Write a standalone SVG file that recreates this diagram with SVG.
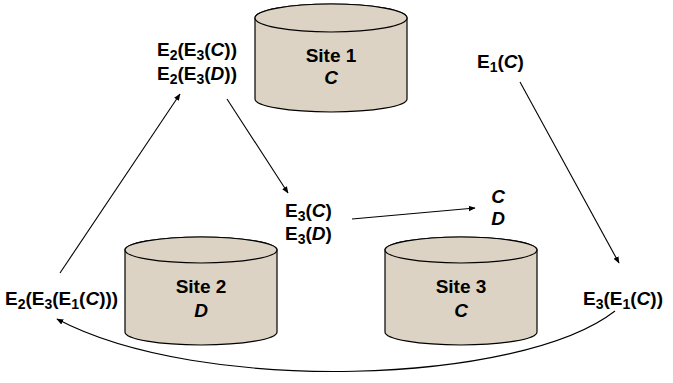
<svg xmlns="http://www.w3.org/2000/svg" width="673" height="383" viewBox="0 0 673 383">
<style>
text{font-family:"Liberation Sans",Arial,sans-serif;font-weight:bold;font-size:19px;fill:#000}
.c{text-anchor:middle}
.i{font-style:italic}
.s{font-size:14px}
.cyl{fill:#ddd3c4;stroke:#000;stroke-width:1.2}
.ln{fill:none;stroke:#000;stroke-width:1.1;marker-end:url(#ah)}
</style>
<defs>
<marker id="ah" viewBox="0 0 10 10" refX="9" refY="5" markerWidth="7" markerHeight="7" markerUnits="userSpaceOnUse" orient="auto">
<path d="M0,1 L10,5 L0,9 Z" fill="#000"/>
</marker>
</defs>
<rect width="673" height="383" fill="#fff"/>
<g id="site1">
<path class="cyl" d="M255,18 L255,99 A76,13 0 0 0 407,99 L407,18 A76,14 0 0 0 255,18 Z"/>
<ellipse class="cyl" cx="331" cy="18" rx="76" ry="14"/>
<text class="c" x="331" y="62">Site 1</text>
<text class="c i" x="331" y="84">C</text>
</g>
<g id="site2">
<path class="cyl" d="M125,250 L125,332 A76,13 0 0 0 277,332 L277,250 A76,13 0 0 0 125,250 Z"/>
<ellipse class="cyl" cx="201" cy="250" rx="76" ry="13"/>
<text class="c" x="201" y="293">Site 2</text>
<text class="c i" x="201" y="317">D</text>
</g>
<g id="site3">
<path class="cyl" d="M385,250 L385,332 A76,13 0 0 0 537,332 L537,250 A76,13 0 0 0 385,250 Z"/>
<ellipse class="cyl" cx="461" cy="250" rx="76" ry="13"/>
<text class="c" x="461" y="293">Site 3</text>
<text class="c i" x="461" y="317">C</text>
</g>
<g id="label-e2e3">
<text x="157" y="56">E<tspan class="s" dy="4">2</tspan><tspan dy="-4">(E</tspan><tspan class="s" dy="4">3</tspan><tspan dy="-4">(</tspan><tspan class="i">C</tspan>))</text>
<text x="157" y="80">E<tspan class="s" dy="4">2</tspan><tspan dy="-4">(E</tspan><tspan class="s" dy="4">3</tspan><tspan dy="-4">(</tspan><tspan class="i">D</tspan>))</text>
</g>
<g id="label-e1">
<text x="477" y="68">E<tspan class="s" dy="4">1</tspan><tspan dy="-4">(</tspan><tspan class="i">C</tspan>)</text>
</g>
<g id="label-e3">
<text x="285" y="217">E<tspan class="s" dy="4">3</tspan><tspan dy="-4">(</tspan><tspan class="i">C</tspan>)</text>
<text x="285" y="240">E<tspan class="s" dy="4">3</tspan><tspan dy="-4">(</tspan><tspan class="i">D</tspan>)</text>
</g>
<g id="label-cd">
<text class="c i" x="498" y="203">C</text>
<text class="c i" x="498" y="225">D</text>
</g>
<g id="label-e2e3e1">
<text x="5" y="305">E<tspan class="s" dy="4">2</tspan><tspan dy="-4">(E</tspan><tspan class="s" dy="4">3</tspan><tspan dy="-4">(E</tspan><tspan class="s" dy="4">1</tspan><tspan dy="-4">(</tspan><tspan class="i">C</tspan>)))</text>
</g>
<g id="label-e3e1">
<text x="583" y="305">E<tspan class="s" dy="4">3</tspan><tspan dy="-4">(E</tspan><tspan class="s" dy="4">1</tspan><tspan dy="-4">(</tspan><tspan class="i">C</tspan>))</text>
</g>
<g id="connectors">
<line class="ln" x1="60" y1="273" x2="180" y2="94"/>
<line class="ln" x1="227" y1="99" x2="288" y2="193"/>
<line class="ln" x1="352" y1="219" x2="475" y2="208"/>
<line class="ln" x1="520" y1="82" x2="619" y2="263"/>
<path class="ln" d="M615,311 C520,385 200,395 57,319"/>
</g>
</svg>
